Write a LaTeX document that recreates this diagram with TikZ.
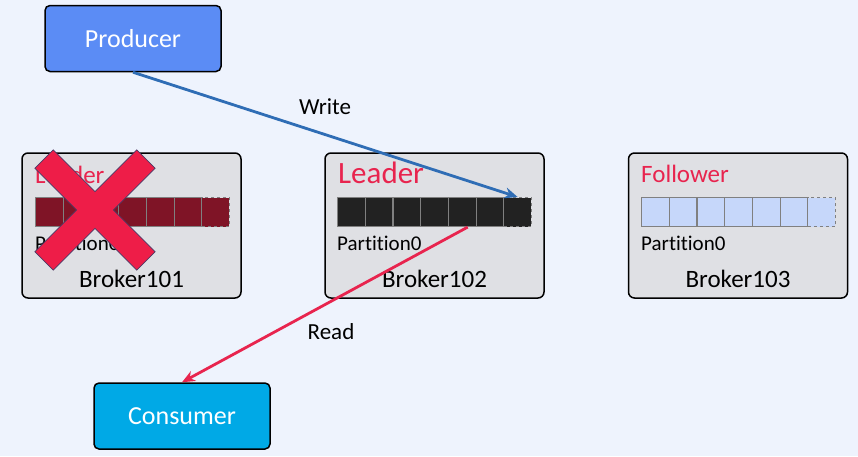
\documentclass[tikz,border=0pt]{standalone}
\usepackage{fontspec}
\setmainfont{Carlito}[Ligatures={NoCommon}]
\usetikzlibrary{arrows.meta}
\definecolor{bgblue}{HTML}{EEF3FD}
\definecolor{prodblue}{HTML}{5B8CF5}
\definecolor{consblue}{HTML}{00A9E6}
\definecolor{brokergrey}{HTML}{DFE0E4}
\definecolor{leaderred}{HTML}{E8244E}
\definecolor{writeblue}{HTML}{2F6DB5}
\definecolor{deadred}{HTML}{7F1426}
\definecolor{logblack}{HTML}{222222}
\definecolor{logblue}{HTML}{C6D7FA}
\definecolor{crossred}{HTML}{EE1D48}
\definecolor{crossline}{HTML}{4B3A66}
\begin{document}
\begin{tikzpicture}[x=1pt, y=-1pt,
	client/.style={draw=black, line width=1.5pt, rounded corners=5pt, minimum width=176pt, minimum height=66pt, inner sep=0pt, text=white, font=\fontsize{26}{30}\selectfont},
	broker/.style={draw=black, line width=1.5pt, rounded corners=6pt, fill=brokergrey, minimum width=219pt, minimum height=145pt, inner sep=0pt},
	cell/.style={draw=gray, line width=1.1pt, minimum width=27.7pt, minimum height=29pt, inner sep=0pt, anchor=north west},
	role/.style={anchor=base west, inner sep=0pt, text=leaderred, font=\fontsize{25}{30}\selectfont},
	part/.style={anchor=base west, inner sep=0pt, font=\fontsize{21}{25}\selectfont},
	bname/.style={anchor=base, inner sep=0pt, font=\fontsize{25}{30}\selectfont},
	flow/.style={line width=2.8pt, -{Stealth[length=13pt, width=11pt]}},
	flowlabel/.style={inner sep=0pt, font=\fontsize{23}{28}\selectfont}]
	\fill[bgblue] (0,0) rectangle (858,456);
	\useasboundingbox (0,0) rectangle (858,456);
	% clients
	\node[client, fill=prodblue] (producer) at (133,38.5) {Producer};
	\node[client, fill=consblue] (consumer) at (182,416) {Consumer};
	% brokers
	\node[broker] (b1) at (131.5,225.5) {};
	\node[broker] (b2) at (434.5,225.5) {};
	\node[broker] (b3) at (738,225.5) {};
	% partition logs
	\foreach \b/\x/\fc in {1/35/deadred, 2/337/logblack, 3/641/logblue} {
		\foreach \i in {1,...,6}
			\node[cell, fill=\fc] (c\b-\i) at ({\x+(\i-1)*27.7},197) {};
		\node[cell, fill=\fc, dashed] (c\b-7) at ({\x+6*27.7},197) {};
	}
	% labels
	\node[role] (role1) at (35,183) {Leader};
	\node[role, font=\fontsize{31}{36}\selectfont] (role2) at (338,183) {Leader};
	\node[role] (role3) at (641,182) {Follower};
	\node[part] (part1) at (35,250) {Partition0};
	\node[part] (part2) at (337,250) {Partition0};
	\node[part] (part3) at (641,250) {Partition0};
	\node[bname] (name1) at (131.5,287) {Broker101};
	\node[bname] (name2) at (434.5,287) {Broker102};
	\node[bname] (name3) at (738,287) {Broker103};
	% dead broker
	\begin{scope}[shift={(95,210)}, rotate=45]
		\draw[fill=crossred, draw=crossline, line width=0.8pt]
			(72,13) -- (13,13) -- (13,72) -- (-13,72) -- (-13,13) -- (-72,13)
			-- (-72,-13) -- (-13,-13) -- (-13,-72) -- (13,-72) -- (13,-13) -- (72,-13) -- cycle;
	\end{scope}
	% write and read
	\draw[flow, writeblue] (producer.south) -- (c2-7.north);
	\draw[flow, leaderred] (c2-5.-70) -- (consumer.north);
	\node[flowlabel] (write) at (325,107) {Write};
	\node[flowlabel] (read) at (331,332) {Read};
\end{tikzpicture}
\end{document}
